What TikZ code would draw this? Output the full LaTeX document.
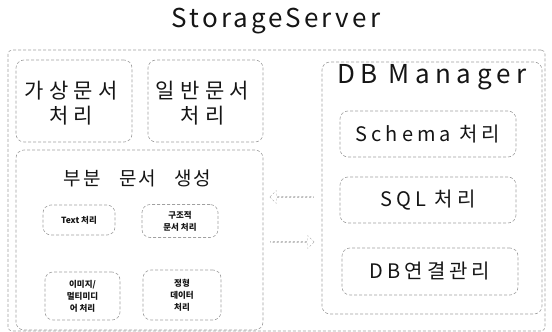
\documentclass[tikz,border=0pt]{standalone}
\usepackage{fontspec}
\setmainfont{Noto Sans CJK KR}
\newfontfamily\krwide[LetterSpace=20]{Noto Sans CJK KR}
\newfontfamily\krspread[LetterSpace=25]{Noto Sans CJK KR}
\newfontfamily\krwords[LetterSpace=10,WordSpace=3]{Noto Sans CJK KR}
\newfontfamily\titlefont[LetterSpace=12]{Noto Sans CJK KR}
\newfontfamily\dbfont[LetterSpace=21]{Noto Sans CJK KR}
\usetikzlibrary{positioning,shapes.arrows}
\definecolor{ink}{HTML}{151515}
\definecolor{faint}{HTML}{A0A0A0}

\begin{document}
\begin{tikzpicture}[x=1pt, y=-1pt,
  node distance=5pt,
  frame/.style={draw=faint, dash pattern=on 3pt off 2pt, line width=0.6pt, rounded corners=4pt, inner sep=0pt},
  box/.style={frame, rounded corners=8pt},
  headtext/.style={font=\titlefont\fontsize{26}{30}\selectfont, text=ink, inner sep=0pt},
  doctext/.style={font=\krspread\fontsize{21}{25}\selectfont, text=ink, align=center, inner sep=0pt},
  bigtext/.style={font=\krwide\fontsize{20}{26}\selectfont, text=ink, align=center, inner sep=0pt},
  smalltext/.style={font=\fontsize{8.5}{12}\selectfont\bfseries, text=ink, align=center, inner sep=0pt},
  flow/.style={single arrow, draw=faint, dash pattern=on 2pt off 2pt, minimum height=44pt, minimum width=13pt, single arrow head extend=3pt, inner sep=0pt}
]
\useasboundingbox (0,0) rectangle (552,332);

% storage server frame
\node[frame, minimum width=537pt, minimum height=281pt] (storage) at (276.5,190.5) {};
\node[headtext] (storagetitle) at (276,21) {StorageServer};

% document handling, left side
\node[box, minimum width=116pt, minimum height=82pt] (virtual) at (74,101) {};
\node[doctext, below=21pt of virtual.north, xshift=-3pt] (virtualtext) {가상문서\\처리};
\node[box, minimum width=115pt, minimum height=82pt] (general) at (205.5,101) {};
\node[doctext, below=21pt of general.north, xshift=-3pt] (generaltext) {일반문서\\처리};

\node[box, minimum width=247pt, minimum height=180pt] (partial) at (139.5,240) {};
\node[font=\krwords\fontsize{19}{24}\selectfont, text=ink, inner sep=0pt, below=20pt of partial.north, xshift=-2pt] (partialtext) {부분 문서 생성};
\node[box, minimum width=72pt, minimum height=30pt, smalltext] (textproc) at (79,220) {Text 처리};
\node[box, minimum width=76pt, minimum height=33pt, smalltext] (structproc) at (180,221) {구조적\\문서 처리};
\node[box, minimum width=75pt, minimum height=48pt, smalltext] (mediaproc) at (82.5,296) {이미지/\\멀티미디\\어 처리};
\node[box, minimum width=78pt, minimum height=50pt, smalltext] (dataproc) at (182,295) {정형\\데이터\\처리};

% DB manager
\node[box, minimum width=220pt, minimum height=252pt] (dbm) at (432,188) {};
\node[font=\dbfont\fontsize{26}{30}\selectfont, text=ink, inner sep=0pt, below=3pt of dbm.north] (dbmtitle) {DB Manager};
\node[box, minimum width=176pt, minimum height=46pt, bigtext] (schema) at (428,134) {Schema 처리};
\node[box, minimum width=176pt, minimum height=46pt, bigtext] (sql) at (428,200) {SQL 처리};
\node[box, minimum width=176pt, minimum height=47pt, bigtext] (dbconn) at (430,271.5) {DB연결관리};

% exchange between the two sides
\node[flow, shape border rotate=180] (reply) at (292,197) {};
\node[flow] (query) at (292,242) {};
\end{tikzpicture}
\end{document}
